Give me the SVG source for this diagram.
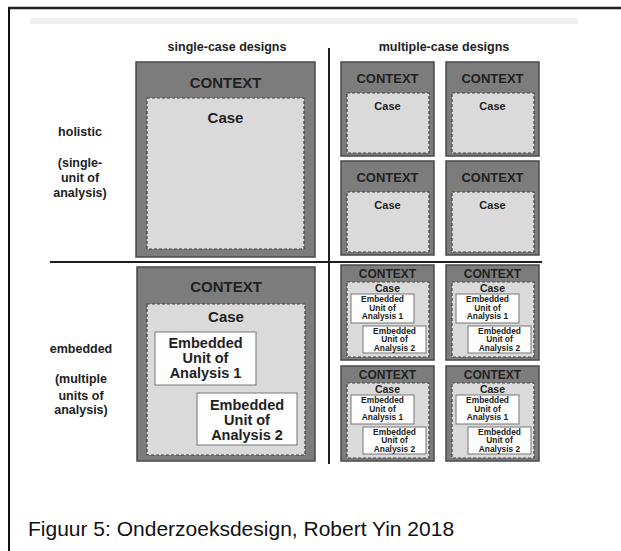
<svg xmlns="http://www.w3.org/2000/svg" width="621" height="551" viewBox="0 0 621 551">
  <style>
    text { font-family: "Liberation Sans", Arial, sans-serif; font-weight: bold; fill: #222; text-anchor: middle; }
    .caption { font-weight: normal; text-anchor: start; fill: #111; font-size: 21px; }
    .ctx { fill: #7c7c7c; stroke: #4a4a4a; stroke-width: 1.5; }
    .case { fill: #dadada; stroke: #444; stroke-width: 1.2; stroke-dasharray: 3 2; }
    .unit { fill: #fdfdfd; stroke: #777; stroke-width: 1; }
    .rule { stroke: #1e1e1e; stroke-width: 2; fill: none; }
    .head { font-size: 12.5px; }
    .side { font-size: 12.5px; }
    .ctxL { font-size: 15px; }
    .ctxM { font-size: 13px; }
    .ctxS { font-size: 12px; }
    .caseL { font-size: 15px; }
    .caseM { font-size: 11px; }
    .caseS { font-size: 10.5px; }
    .unitL { font-size: 14.5px; }
    .unitS { font-size: 8.4px; }
  </style>

  <!-- page frame -->
  <rect x="0" y="0" width="621" height="551" fill="#ffffff"/>
  <line x1="8" y1="8" x2="621" y2="8" stroke="#222" stroke-width="2.5"/>
  <line x1="9" y1="8" x2="9" y2="551" stroke="#111" stroke-width="2"/>
  <rect x="30" y="18" width="548" height="6" fill="#efefef"/>

  <!-- quadrant dividers -->
  <g id="connectors">
    <line class="rule" x1="50" y1="262" x2="542" y2="262"/>
    <line class="rule" x1="329" y1="48" x2="329" y2="464"/>
  </g>

  <!-- headings -->
  <g id="headings">
    <text class="head" x="227" y="51">single-case designs</text>
    <text class="head" x="444" y="51">multiple-case designs</text>
  </g>

  <!-- row labels -->
  <g id="label-holistic">
    <text class="side" x="80" y="136">holistic</text>
    <text class="side" x="80" y="167">(single-</text>
    <text class="side" x="80" y="182">unit of</text>
    <text class="side" x="80" y="197">analysis)</text>
  </g>
  <g id="label-embedded">
    <text class="side" x="81" y="353">embedded</text>
    <text class="side" x="81" y="383">(multiple</text>
    <text class="side" x="81" y="400">units of</text>
    <text class="side" x="81" y="414">analysis)</text>
  </g>

  <!-- single-case holistic -->
  <g id="single-holistic">
    <rect class="ctx" x="136" y="62" width="179" height="195"/>
    <text class="ctxL" x="225.5" y="88">CONTEXT</text>
    <rect class="case" x="147" y="98" width="157" height="151"/>
    <text class="caseL" x="225.5" y="123">Case</text>
  </g>

  <!-- reusable small panels -->
  <defs>
    <g id="mini-holistic">
      <rect class="ctx" x="0" y="0" width="93" height="94"/>
      <text class="ctxM" x="46.5" y="21">CONTEXT</text>
      <rect class="case" x="6" y="31" width="82" height="60"/>
      <text class="caseM" x="46.5" y="48">Case</text>
    </g>
    <g id="mini-embedded">
      <rect class="ctx" x="0" y="0" width="93" height="95"/>
      <text class="ctxS" x="46.5" y="13">CONTEXT</text>
      <rect class="case" x="6" y="17" width="82" height="75"/>
      <text class="caseS" x="46.5" y="27">Case</text>
      <rect class="unit" x="10" y="29" width="63" height="29"/>
      <text class="unitS" x="41.5" y="37">Embedded</text>
      <text class="unitS" x="41.5" y="46">Unit of</text>
      <text class="unitS" x="41.5" y="54">Analysis 1</text>
      <rect class="unit" x="22" y="61" width="63" height="27"/>
      <text class="unitS" x="53.5" y="69">Embedded</text>
      <text class="unitS" x="53.5" y="77">Unit of</text>
      <text class="unitS" x="53.5" y="86">Analysis 2</text>
    </g>
  </defs>

  <!-- multiple-case holistic -->
  <g id="multi-holistic-1"><use href="#mini-holistic" x="341" y="62"/></g>
  <g id="multi-holistic-2"><use href="#mini-holistic" x="446" y="62"/></g>
  <g id="multi-holistic-3"><use href="#mini-holistic" x="341" y="161"/></g>
  <g id="multi-holistic-4"><use href="#mini-holistic" x="446" y="161"/></g>

  <!-- single-case embedded -->
  <g id="single-embedded">
    <rect class="ctx" x="137" y="267" width="178" height="194"/>
    <text class="ctxL" x="226" y="292">CONTEXT</text>
    <rect class="case" x="147" y="304" width="158" height="151"/>
    <text class="caseL" x="226" y="322">Case</text>
    <rect class="unit" x="155" y="332" width="101" height="53"/>
    <text class="unitL" x="205.5" y="348">Embedded</text>
    <text class="unitL" x="205.5" y="363">Unit of</text>
    <text class="unitL" x="205.5" y="378">Analysis 1</text>
    <rect class="unit" x="197" y="393" width="100" height="52"/>
    <text class="unitL" x="247" y="410">Embedded</text>
    <text class="unitL" x="247" y="425">Unit of</text>
    <text class="unitL" x="247" y="440">Analysis 2</text>
  </g>

  <!-- multiple-case embedded -->
  <g id="multi-embedded-1"><use href="#mini-embedded" x="341" y="265"/></g>
  <g id="multi-embedded-2"><use href="#mini-embedded" x="446" y="265"/></g>
  <g id="multi-embedded-3"><use href="#mini-embedded" x="341" y="366"/></g>
  <g id="multi-embedded-4"><use href="#mini-embedded" x="446" y="366"/></g>

  <!-- caption -->
  <text class="caption" x="28" y="536">Figuur 5: Onderzoeksdesign, Robert Yin 2018</text>
</svg>
